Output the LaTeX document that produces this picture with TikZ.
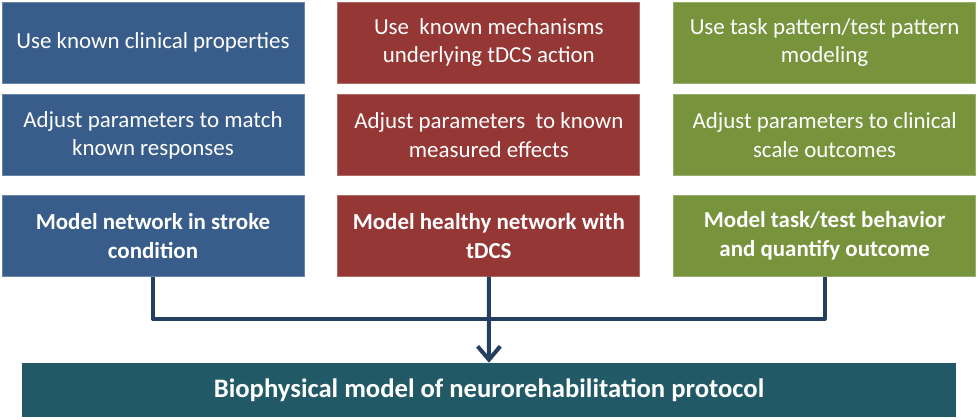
\documentclass[tikz,border=0pt]{standalone}
\usepackage{fontspec}
\setmainfont{Carlito}
\usepackage{tikz}
\usetikzlibrary{positioning,arrows.meta}
\definecolor{boxblue}{HTML}{385D8A}
\definecolor{boxred}{HTML}{953735}
\definecolor{boxgreen}{HTML}{77933C}
\definecolor{boxteal}{HTML}{215967}
\definecolor{linknavy}{HTML}{243F60}

\begin{document}
\begin{tikzpicture}[x=0.75pt, y=-0.75pt, node distance={8.25pt and 24.75pt}, card/.style = {draw=#1!75!white, line width=0.6pt, fill=#1, text=white, minimum width=226.5pt, minimum height=60.75pt, inner sep=0pt, align=center, font=\fontsize{17.2}{21.5}\selectfont}, model/.style = {card=#1, font=\fontsize{17.2}{21.5}\selectfont\bfseries}, link/.style = {draw=linknavy, line width=3pt, line join=round}]
                \useasboundingbox (0,0) rectangle (978,419);
                \node[card=boxblue] (b1) at (153,42.5) {Use known clinical properties};
                \node[card=boxblue] (b2) [below=of b1] {Adjust parameters to match\\known responses};
                \node[model=boxblue] (b3) [below=14pt of b2] {Model network in stroke\\condition};
                \node[card=boxred] (r1) [right=of b1] {Use\ \ known mechanisms\\underlying tDCS action};
                \node[card=boxred] (r2) [right=of b2] {Adjust parameters\ \ to known\\measured effects};
                \node[model=boxred] (r3) [right=of b3] {Model healthy network with\\tDCS};
                \node[card=boxgreen] (g1) [right=of r1] {Use task pattern/test pattern\\modeling};
                \node[card=boxgreen] (g2) [right=of r2] {Adjust parameters to clinical\\scale outcomes};
                \node[model=boxgreen] (g3) [right=of r3] {Model task/test behavior\\and quantify outcome};
                \node[fill=boxteal, text=white, minimum width=700.5pt, minimum height=40.5pt, inner sep=0pt, font=\fontsize{20}{24}\selectfont\bfseries] (bot) at (489,390) {Biophysical model of neurorehabilitation protocol};
                \coordinate (j) at (r3.south |- 0,319);
                \draw[link] (b3.south) |- (j) -| (g3.south);
                \draw[link, -{Straight Barb[length=10pt, width=17pt]}] (r3) -- (bot);
            \end{tikzpicture}
\end{document}
